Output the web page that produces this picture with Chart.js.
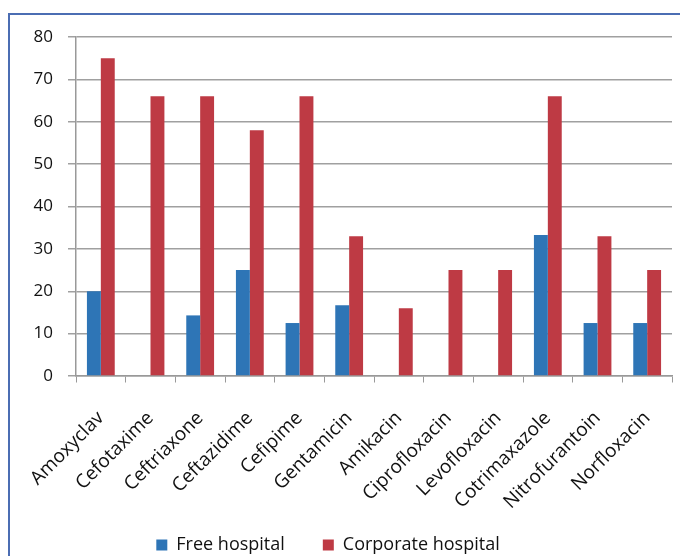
<!DOCTYPE html>
<html>
<head>
<meta charset="utf-8">
<script src="https://cdn.jsdelivr.net/npm/chart.js@4.4.1/dist/chart.umd.min.js"></script>
<style>
  html, body { margin: 0; padding: 0; background: #fff; }
  #wrap { position: relative; width: 680px; height: 556px; overflow: hidden; }
  #frame { position: absolute; left: 8px; top: 13px; width: 700px; height: 600px; border: 2px solid #4b6db3; box-sizing: border-box; }
  #chart { position: absolute; left: 0; top: 0; }
</style>
</head>
<body>
<div id="wrap">
  <div id="frame"></div>
  <canvas id="chart" width="680" height="556"></canvas>
</div>
<script>
const drugs = ['Amoxyclav', 'Cefotaxime', 'Ceftriaxone', 'Ceftazidime', 'Cefipime', 'Gentamicin',
  'Amikacin', 'Ciprofloxacin', 'Levofloxacin', 'Cotrimaxazole', 'Nitrofurantoin', 'Norfloxacin'];
const freeHospital = [20, 0, 14.3, 25, 12.5, 16.7, 0, 0, 0, 33.3, 12.5, 12.5];
const corporateHospital = [75, 66, 66, 58, 66, 33, 16, 25, 25, 66, 33, 25];
const yTicks = [0, 10, 20, 30, 40, 50, 60, 70, 80];

const fontFamily = "'Open Sans', 'Liberation Sans', sans-serif";

// legend is kept short in the layout so the rotated labels get room,
// then its box is stretched up / nudged left to where it sits in the original
const legendShift = {
  id: 'legendShift',
  afterLayout(chart) {
    const lg = chart.legend;
    if (lg) {
      lg.left -= 8;
      lg.right -= 8;
      lg.top -= 28;
    }
  }
};

new Chart(document.getElementById('chart'), {
  type: 'bar',
  data: {
    labels: drugs,
    datasets: [{
      label: 'Free hospital',
      data: freeHospital,
      backgroundColor: '#2e75b6',
      categoryPercentage: 0.56,
      barPercentage: 1
    }, {
      label: 'Corporate hospital',
      data: corporateHospital,
      backgroundColor: '#be3a44',
      categoryPercentage: 0.56,
      barPercentage: 1
    }]
  },
  plugins: [legendShift],
  options: {
    responsive: false,
    animation: false,
    layout: { padding: { left: 0, top: 37, right: 8, bottom: 0 } },
    plugins: {
      tooltip: { enabled: false },
      legend: {
        position: 'bottom',
        maxHeight: 30,
        labels: {
          boxWidth: 11,
          boxHeight: 11,
          padding: 38,
          color: '#111',
          font: { family: fontFamily, size: 18 }
        }
      }
    },
    scales: {
      x: {
        grid: {
          display: true,
          drawOnChartArea: false,
          offset: true,
          tickLength: 28,
          tickBorderDash: [6, 200],
          color: '#999'
        },
        border: { color: '#999', width: 1.5 },
        ticks: {
          minRotation: 45,
          maxRotation: 45,
          padding: 3,
          color: '#111',
          font: { family: fontFamily, size: 19 }
        },
        afterFit: function(scale) { scale.height = 150; }
      },
      y: {
        min: 0,
        max: 80,
        afterBuildTicks: function(scale) { scale.ticks = yTicks.map(v => ({ value: v })); },
        grid: { color: '#a0a0a0', lineWidth: 1.5, tickLength: 8 },
        border: { color: '#999', width: 1.5 },
        ticks: {
          color: '#111',
          padding: 15,
          font: { family: fontFamily, size: 17 }
        },
        afterFit: function(scale) { scale.width = 76; }
      }
    }
  }
});
</script>
</body>
</html>
